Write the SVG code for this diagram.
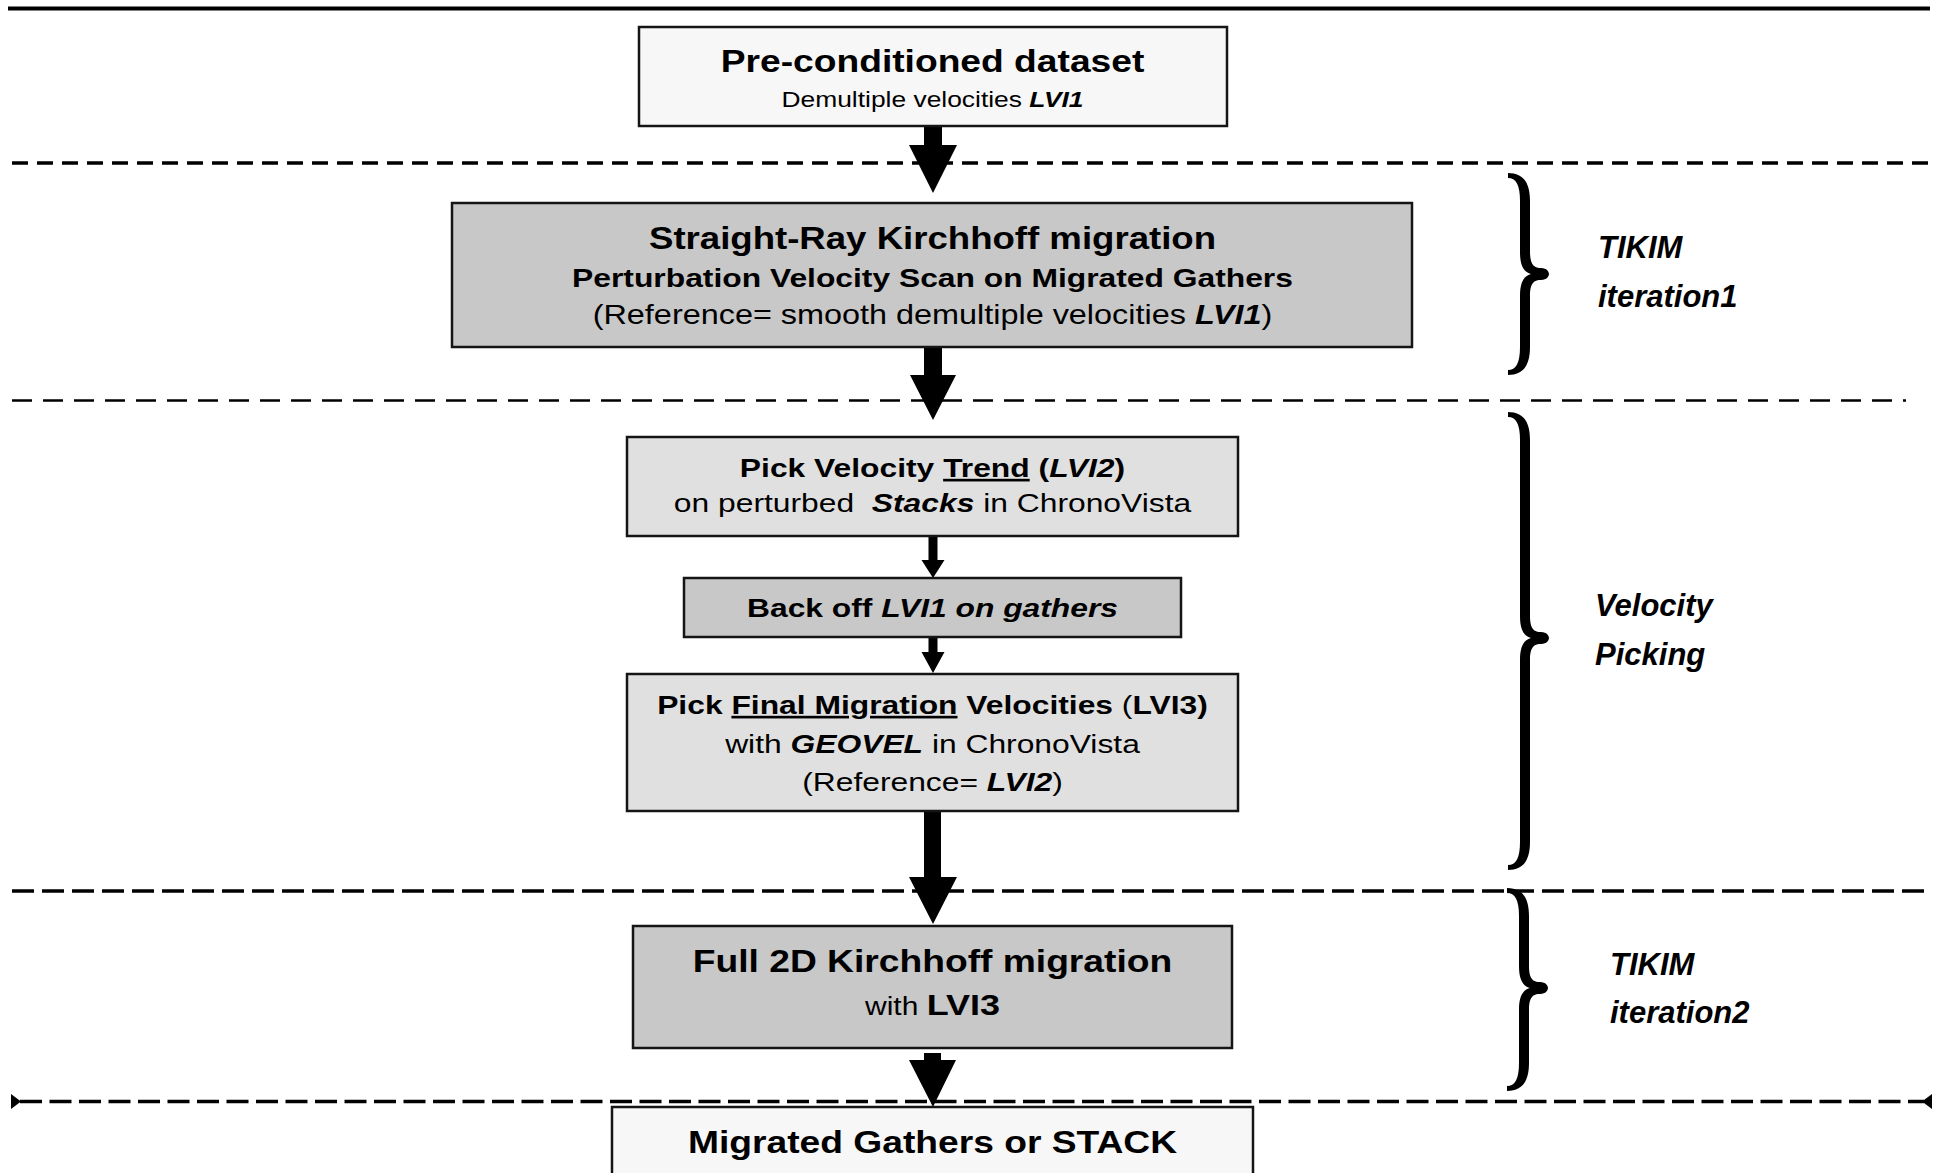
<svg xmlns="http://www.w3.org/2000/svg" width="1942" height="1173" viewBox="0 0 1942 1173">
<defs>
<style>
.box{stroke:#151515;stroke-width:2.5}
.f1{fill:#f7f7f7}.f2{fill:#c8c8c8}.f3{fill:#e0e0e0}
text{font-family:"Liberation Sans",Arial,Helvetica,sans-serif;fill:#000;text-anchor:middle}
.b{font-weight:bold}.i{font-style:italic}.bi{font-weight:bold;font-style:italic}.n{font-weight:normal;font-style:normal}
.u{text-decoration:underline}
.side{font-weight:bold;font-style:italic;font-size:31px;text-anchor:start}
.sep{stroke:#000;fill:none}
.arr{fill:#000}
.brace{fill:#000}
</style>
</defs>
<rect width="1942" height="1173" fill="#fff"/>
<g id="separators">
<line class="sep" x1="8" y1="8.5" x2="1930" y2="8.5" stroke-width="4"/>
<line class="sep" x1="12" y1="163" x2="1930" y2="163" stroke-width="3.5" stroke-dasharray="16 9"/>
<line class="sep" x1="12" y1="400.5" x2="1906" y2="400.5" stroke-width="2.5" stroke-dasharray="20 11"/>
<line class="sep" x1="12" y1="891" x2="1930" y2="891" stroke-width="3.5" stroke-dasharray="22 8"/>
<line class="sep" x1="20" y1="1101.5" x2="1924" y2="1101.5" stroke-width="3.5" stroke-dasharray="22 7.5"/>
<polygon points="11,1094 11,1109 21,1101.5" fill="#000"/>
<polygon points="1932,1094 1932,1109 1922,1101.5" fill="#000"/>
</g>
<g id="connectors">
<polygon class="arr" points="924,126 942,126 942,145 957,145 933,193 909,145 924,145"/>
<polygon class="arr" points="924,347 942,347 942,375 956,375 933,420 910,375 924,375"/>
<polygon class="arr" points="928.5,536 937.5,536 937.5,560 944.5,560 933,578 921.5,560 928.5,560"/>
<polygon class="arr" points="928.5,637 937.5,637 937.5,652 944.5,652 933,673 921.5,652 928.5,652"/>
<polygon class="arr" points="924,811 941,811 941,877 957,877 933,924 909,877 924,877"/>
<polygon class="arr" points="924,1053 941,1053 941,1060 956,1060 933,1107 909,1060 924,1060"/>
</g>
<g id="node-preconditioned">
<rect class="box f1" x="639" y="27" width="588" height="99"/>
<text class="b" transform="matrix(1.2 0 0 1 932.5 0)" x="0" y="72" font-size="31">Pre-conditioned dataset</text>
<text transform="matrix(1.2 0 0 1 932.5 0)" x="0" y="107" font-size="22">Demultiple velocities <tspan class="bi">LVI1</tspan></text>
</g>
<g id="node-straightray">
<rect class="box f2" x="452" y="203" width="960" height="144"/>
<text class="b" transform="matrix(1.2 0 0 1 932.5 0)" x="0" y="249" font-size="30.5">Straight-Ray Kirchhoff migration</text>
<text class="b" transform="matrix(1.2 0 0 1 932.5 0)" x="0" y="287" font-size="26.5">Perturbation Velocity Scan on Migrated Gathers</text>
<text transform="matrix(1.2 0 0 1 932.5 0)" x="0" y="324" font-size="27">(Reference= smooth demultiple velocities <tspan class="bi">LVI1</tspan>)</text>
</g>
<g id="node-picktrend">
<rect class="box f3" x="627" y="437" width="611" height="99"/>
<text class="b" transform="matrix(1.2 0 0 1 932.5 0)" x="0" y="477" font-size="26.5">Pick Velocity <tspan class="u">Trend</tspan> (<tspan class="i">LVI2</tspan>)</text>
<text transform="matrix(1.2 0 0 1 932.5 0)" x="0" y="512" font-size="26.5">on perturbed &#160;<tspan class="bi">Stacks</tspan> in ChronoVista</text>
</g>
<g id="node-backoff">
<rect class="box f2" x="684" y="578" width="497" height="59"/>
<text class="b" transform="matrix(1.2 0 0 1 932.5 0)" x="0" y="617" font-size="26.5">Back off <tspan class="i">LVI1 on gathers</tspan></text>
</g>
<g id="node-pickfinal">
<rect class="box f3" x="627" y="674" width="611" height="137"/>
<text class="b" transform="matrix(1.2 0 0 1 932.5 0)" x="0" y="714" font-size="26.5">Pick <tspan class="u">Final Migration</tspan> Velocities <tspan class="n">(</tspan>LVI3)</text>
<text transform="matrix(1.2 0 0 1 932.5 0)" x="0" y="753" font-size="26.5">with <tspan class="bi">GEOVEL</tspan> in ChronoVista</text>
<text transform="matrix(1.2 0 0 1 932.5 0)" x="0" y="791" font-size="26.5">(Reference= <tspan class="bi">LVI2</tspan>)</text>
</g>
<g id="node-full2d">
<rect class="box f2" x="633" y="926" width="599" height="122"/>
<text class="b" transform="matrix(1.2 0 0 1 932.5 0)" x="0" y="972" font-size="31">Full 2D Kirchhoff migration</text>
<text transform="matrix(1.2 0 0 1 932.5 0)" x="0" y="1015" font-size="25">with <tspan class="b" font-size="30">LVI3</tspan></text>
</g>
<g id="node-migrated">
<rect class="box f1" x="612" y="1107" width="641" height="80"/>
<text class="b" transform="matrix(1.2 0 0 1 932.5 0)" x="0" y="1153" font-size="31">Migrated Gathers or STACK</text>
</g>
<g id="braces">
<path class="brace" d="M1508,173 C1522,173 1530,181 1530,201 L1530,252 C1530,266 1535,268 1541,268 C1547,268 1549,272 1549,274 C1549,276 1547,280 1541,280 C1535,280 1530,282 1530,296 L1530,347 C1530,367 1522,375 1508,375 L1508,370 C1516,370 1520,363 1520,347 L1520,296 C1520,282 1524,276 1531,274 C1524,272 1520,266 1520,252 L1520,201 C1520,185 1516,178 1508,178 Z"/>
<path class="brace" d="M1508,412 C1522,412 1530,420 1530,440 L1530,616 C1530,630 1535,632 1541,632 C1547,632 1549,636 1549,638 C1549,640 1547,644 1541,644 C1535,644 1530,646 1530,660 L1530,842 C1530,862 1522,870 1508,870 L1508,865 C1516,865 1520,858 1520,842 L1520,660 C1520,646 1524,640 1531,638 C1524,636 1520,630 1520,616 L1520,440 C1520,424 1516,417 1508,417 Z"/>
<path class="brace" d="M1507,888 C1521,888 1529,896 1529,916 L1529,966 C1529,980 1534,982 1540,982 C1546,982 1548,986 1548,988 C1548,990 1546,994 1540,994 C1534,994 1529,996 1529,1010 L1529,1063 C1529,1083 1521,1091 1507,1091 L1507,1086 C1515,1086 1519,1079 1519,1063 L1519,1010 C1519,996 1523,990 1530,988 C1523,986 1519,980 1519,966 L1519,916 C1519,900 1515,893 1507,893 Z"/>
</g>
<g id="label-tikim1">
<text class="side" x="1598" y="258">TIKIM</text>
<text class="side" x="1598" y="307">iteration1</text>
</g>
<g id="label-velocity">
<text class="side" x="1595" y="616">Velocity</text>
<text class="side" x="1595" y="665">Picking</text>
</g>
<g id="label-tikim2">
<text class="side" x="1610" y="975">TIKIM</text>
<text class="side" x="1610" y="1023">iteration2</text>
</g>
</svg>
